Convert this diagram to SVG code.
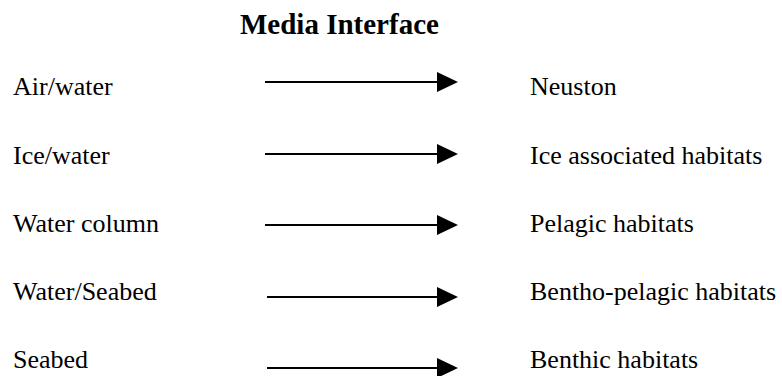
<svg xmlns="http://www.w3.org/2000/svg" width="782" height="376" viewBox="0 0 782 376">
<style>
text{font-family:"Liberation Serif","Times New Roman",serif;font-size:26px;fill:#000}
.title{font-weight:bold;font-size:29px}
.conn line{stroke:#000;stroke-width:2}
</style>
<defs>
<marker id="ah" markerWidth="21" markerHeight="20" refX="0" refY="10" orient="auto" markerUnits="userSpaceOnUse">
<path d="M0,0 L21,10 L0,20 Z" fill="#000"/>
</marker>
</defs>
<rect width="782" height="376" fill="#fff"/>
<g id="title"><text class="title" x="240" y="34">Media Interface</text></g>
<g id="left">
<g id="n-air"><text x="13" y="95">Air/water</text></g>
<g id="n-ice"><text x="13" y="164">Ice/water</text></g>
<g id="n-col"><text x="13" y="232">Water column</text></g>
<g id="n-wsb"><text x="13" y="300">Water/Seabed</text></g>
<g id="n-sb"><text x="13" y="368">Seabed</text></g>
</g>
<g id="right">
<g id="n-neu"><text x="530" y="95">Neuston</text></g>
<g id="n-iah"><text x="530" y="164">Ice associated habitats</text></g>
<g id="n-pel"><text x="530" y="232">Pelagic habitats</text></g>
<g id="n-bph"><text x="530" y="300">Bentho-pelagic habitats</text></g>
<g id="n-ben"><text x="530" y="368">Benthic habitats</text></g>
</g>
<g class="conn" id="connectors">
<line x1="265" y1="82" x2="437" y2="82" marker-end="url(#ah)"/>
<line x1="265" y1="154" x2="437" y2="154" marker-end="url(#ah)"/>
<line x1="265" y1="225" x2="437" y2="225" marker-end="url(#ah)"/>
<line x1="267" y1="297" x2="437" y2="297" marker-end="url(#ah)"/>
<line x1="267" y1="368" x2="437" y2="368" marker-end="url(#ah)"/>
</g>
</svg>
